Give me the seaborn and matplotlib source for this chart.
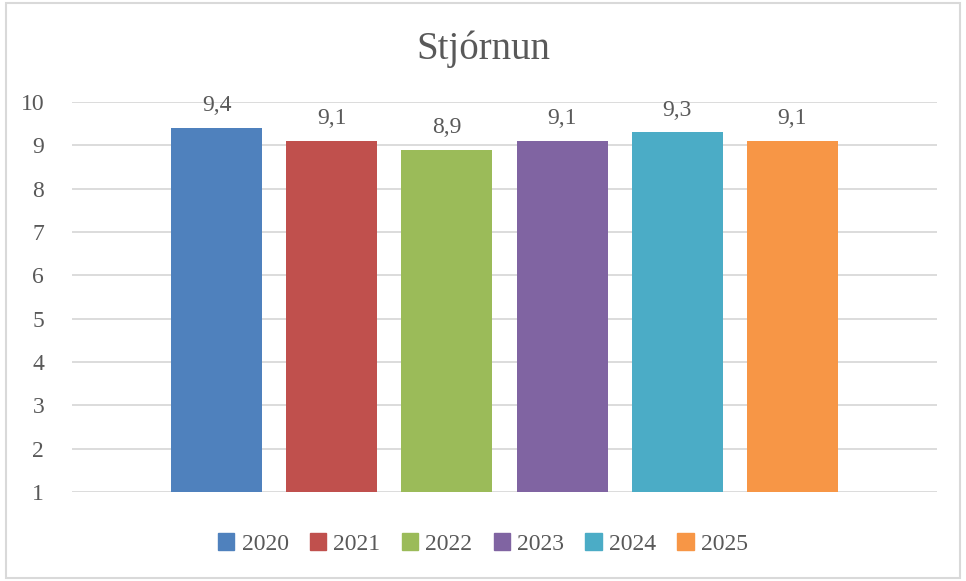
import matplotlib
matplotlib.use('Agg')
import matplotlib.pyplot as plt
import matplotlib.patches as mpatches
import seaborn as sns
import pandas as pd

years = ['2020', '2021', '2022', '2023', '2024', '2025']
values = [9.4, 9.1, 8.9, 9.1, 9.3, 9.1]
colors = ['#4F81BD', '#C0504D', '#9BBB59', '#8064A2', '#4BACC6', '#F79646']
title = 'Stjórnun'

sns.set_style('white')
plt.rcParams['font.family'] = ['Liberation Serif', 'DejaVu Serif']
txt = '#595959'

df = pd.DataFrame({'year': years, 'value': values})

fig = plt.figure(figsize=(9.66, 5.81), dpi=100)
ax = fig.add_axes([0.0745, 0.1532, 0.8955, 0.6712])

sns.barplot(data=df, x='year', y='value', hue='year', palette=colors,
            dodge=False, width=0.79, legend=False, ax=ax, zorder=3,
            saturation=1, linewidth=0)

ax.set_ylim(1, 10)
ax.set_xlim(-1.255, 6.255)
ax.set_yticks(range(1, 11))
ax.yaxis.grid(True, color='#D9D9D9', lw=1.3, zorder=0)
ax.set_axisbelow(True)
ax.set_xticks([])
ax.set_xlabel('')
ax.set_ylabel('')
for s in ax.spines.values():
    s.set_visible(False)
ax.tick_params(axis='y', length=0, pad=20, labelsize=17, labelcolor=txt)

# data labels with comma decimals
for i, v in enumerate(values):
    ax.annotate(f'{v:.1f}'.replace('.', ','), (i, v), xytext=(0, 12),
                textcoords='offset points', ha='center', va='baseline',
                fontsize=17, color=txt)

fig.text(0.5, 0.915, title, ha='center', va='center', fontsize=28, color=txt)

handles = [mpatches.Patch(color=c, label=y) for y, c in zip(years, colors)]
fig.legend(handles=handles, loc='center', bbox_to_anchor=(0.5, 0.064), ncol=6,
           frameon=False, fontsize=17, labelcolor=txt, handlelength=0.7,
           handleheight=0.7, handletextpad=0.3, columnspacing=0.9)

fig.patches.append(mpatches.Rectangle((0.006, 0.006), 0.988, 0.988, transform=fig.transFigure,
                                      fill=False, edgecolor='#D9D9D9', lw=1.5))

fig.savefig('out.png', dpi=100)
